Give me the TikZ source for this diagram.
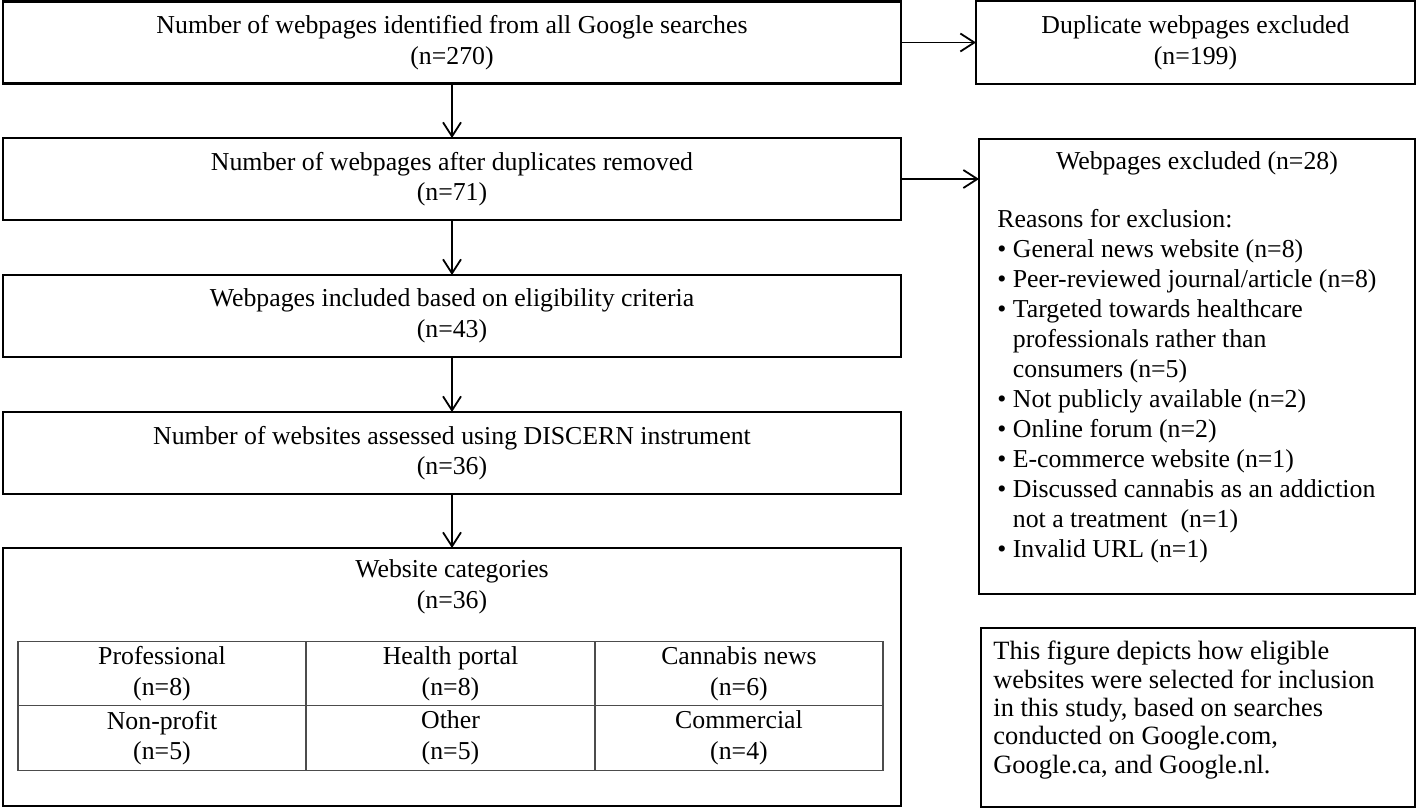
\documentclass[tikz,border=0pt]{standalone}
\usepackage{fontspec}
\setmainfont{Liberation Serif}
\usetikzlibrary{arrows.meta}

\begin{document}
\begin{tikzpicture}[x=0.5pt,y=-0.5pt,
		box/.style={draw,line width=1.1pt,minimum width=449pt,minimum height=41pt,align=center,inner sep=0pt,outer sep=0pt,font=\fontsize{12.9}{15.3}\selectfont},
		cell/.style={draw=black!70,line width=0.6pt,minimum width=144pt,minimum height=32.25pt,align=center,inner sep=0pt,outer sep=0pt,font=\fontsize{12.9}{15.3}\selectfont},
		flow/.style={-{Straight Barb[length=7pt,width=9pt]},line width=0.9pt}]
			\useasboundingbox (0,0) rectangle (1418,808);

			% main column
			\node[box] (found) at (452,42.5) {Number of webpages identified from all Google searches\\(n=270)};
			\node[box] (unique) at (452,179) {Number of webpages after duplicates removed\\(n=71)};
			\node[box] (eligible) at (452,316) {Webpages included based on eligibility criteria\\(n=43)};
			\node[box] (assessed) at (452,453) {Number of websites assessed using DISCERN instrument\\(n=36)};
			\node[box,minimum height=129pt] (category) at (452,677) {};
			\node[font=\fontsize{12.9}{15.3}\selectfont,align=center] (cathead) at ([yshift=-19.5pt]category.north) {Website categories\\(n=36)};

			% categories table
			\node[cell] (prof) at (162,673.5) {Professional\\(n=8)};
			\node[cell] (portal) at (450.5,673.5) {Health portal\\(n=8)};
			\node[cell] (cnews) at (739,673.5) {Cannabis news\\(n=6)};
			\node[cell] (nonprof) at (162,738) {Non-profit\\(n=5)};
			\node[cell] (other) at (450.5,738) {Other\\(n=5)};
			\node[cell] (comm) at (739,738) {Commercial\\(n=4)};

			% right column
			\node[box,minimum width=219.5pt,minimum height=41.5pt] (duplicate) at (1195.5,42.5) {Duplicate webpages excluded\\(n=199)};
			\node[box,minimum width=218pt,minimum height=227.5pt] (excluded) at (1197,366.5) {};
			\node[font=\fontsize{12.9}{15.3}\selectfont] (exclhead) at ([yshift=-12pt]excluded.north) {Webpages excluded (n=28)};
			\node[font=\fontsize{12.9}{15}\selectfont,align=left,anchor=north west,inner sep=0pt] (reasons) at ([xshift=9pt,yshift=-35pt]excluded.north west) {Reasons for exclusion:\\
				\textbullet\ General news website (n=8)\\
				\textbullet\ Peer-reviewed journal/article (n=8)\\
				\textbullet\ Targeted towards healthcare\\
				\phantom{\textbullet}\ professionals rather than\\
				\phantom{\textbullet}\ consumers (n=5)\\
				\textbullet\ Not publicly available (n=2)\\
				\textbullet\ Online forum (n=2)\\
				\textbullet\ E-commerce website (n=1)\\
				\textbullet\ Discussed cannabis as an addiction\\
				\phantom{\textbullet}\ not a treatment\ \ (n=1)\\
				\textbullet\ Invalid URL (n=1)};

			\node[draw,line width=0.8pt,minimum width=217pt,minimum height=89.5pt,inner sep=0pt,outer sep=0pt] (note) at (1198,717.5) {};
			\node[font=\fontsize{13.2}{14.15}\selectfont,align=left,anchor=north west,inner sep=0pt] (notetext) at ([xshift=6pt,yshift=-6.5pt]note.north west) {This figure depicts how eligible\\websites were selected for inclusion\\in this study, based on searches\\conducted on Google.com,\\Google.ca, and Google.nl.};

			% arrows
			\draw[flow] (found) -- (unique);
			\draw[flow] (unique) -- (eligible);
			\draw[flow] (eligible) -- (assessed);
			\draw[flow] (assessed) -- (category);
			\draw[flow] (found) -- (duplicate);
			\draw[flow] (unique.east) -- (unique.east -| excluded.west);
		\end{tikzpicture}
\end{document}
